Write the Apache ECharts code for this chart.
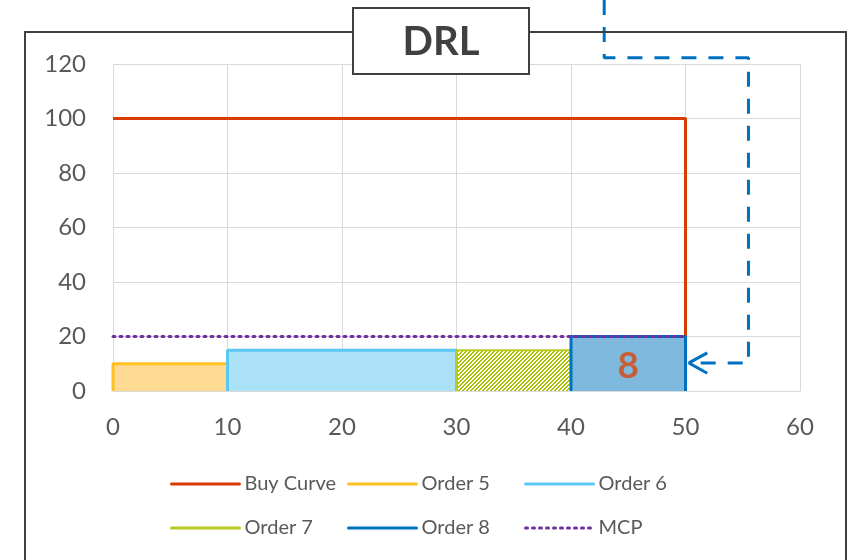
<!DOCTYPE html>
<html><head><meta charset="utf-8">
<script src="https://cdn.jsdelivr.net/npm/echarts@6/dist/echarts.min.js"></script>
<style>html,body{margin:0;padding:0;background:#fff}#c{width:851px;height:560px}</style>
</head><body><div id="c"></div>
<script>
// ---- data ----
var xTicks = [0, 10, 20, 30, 40, 50, 60];
var yTicks = [0, 20, 40, 60, 80, 100, 120];
var buyCurve = [[0, 100], [50, 100], [50, 0]];
var order5 = [[0, 0], [0, 10], [10, 10], [10, 0]];
var order6 = [[10, 0], [10, 15], [30, 15], [30, 0]];
var order7 = [[30, 0], [30, 15], [40, 15], [40, 0]];
var order8 = [[40, 0], [40, 20], [50, 20], [50, 0]];
var mcp = [[0, 20], [50, 20]];
var orderLabel = [[45, 9, '8']];
var arrowPath = [[42.9, 143.5], [42.9, 122.3], [55.5, 122.3], [55.5, 10.3], [50.4, 10.3]];
var arrowHead = [[51.9, 14.0], [50.3, 10.3], [51.9, 6.5]];
var legendNames = ['Buy Curve', 'Order 5', 'Order 6', 'Order 7', 'Order 8', 'MCP'];
var legendColors = ['#d83b01', '#ffc020', '#5ac8f5', '#b8c91f', '#0070c0', '#7030a0'];

var FONT = 'Lato';
var hatch = document.createElement('canvas');
hatch.width = 4; hatch.height = 4;
var g = hatch.getContext('2d');
g.fillStyle = '#ffffff'; g.fillRect(0, 0, 4, 4);
g.fillStyle = '#a8c000';
for (var px = 0; px < 4; px++) for (var py = 0; py < 4; py++) {
  if ((px + py) % 4 < 2) g.fillRect(px, py, 1, 1);
}

var chart = echarts.init(document.getElementById('c'));
var legends = legendNames.map(function (name, i) {
  var col = i % 3, row = Math.floor(i / 3);
  return {
    left: 170 + col * 177, top: row === 0 ? 474 : 518, padding: 0,
    itemWidth: 68, itemHeight: 14,
    textStyle: { fontFamily: FONT, fontSize: 20, color: '#595959' },
    data: [{ name: name, itemStyle: { opacity: 0 },
      lineStyle: { color: legendColors[i], width: 3, type: name === 'MCP' ? [2, 5] : 'solid', cap: 'round' } }]
  };
});
chart.setOption({
  animation: false,
  grid: { left: 113, right: 51, top: 64, bottom: 169 },
  legend: legends,
  xAxis: {
    type: 'value', min: xTicks[0], max: xTicks[xTicks.length - 1], interval: 10,
    axisLine: { show: true, lineStyle: { color: '#d9d9d9', width: 1 } },
    axisTick: { show: false },
    axisLabel: { fontFamily: FONT, fontSize: 24, color: '#595959', margin: 24 },
    splitLine: { show: true, lineStyle: { color: '#d9d9d9', width: 1 } }
  },
  yAxis: {
    type: 'value', min: yTicks[0], max: yTicks[yTicks.length - 1], interval: 20,
    axisLine: { show: false }, axisTick: { show: false },
    axisLabel: { fontFamily: FONT, fontSize: 24, color: '#595959', margin: 27 },
    splitLine: { show: true, lineStyle: { color: '#d9d9d9', width: 1 } }
  },
  series: [
    { name: 'Buy Curve', type: 'line', data: buyCurve, symbol: 'none', z: 2,
      lineStyle: { color: '#d83b01', width: 3 }, itemStyle: { color: '#d83b01' } },
    { name: 'Order 5', type: 'line', data: order5, symbol: 'none', z: 3,
      lineStyle: { color: '#ffc020', width: 3 }, itemStyle: { color: '#ffc020' },
      areaStyle: { color: 'rgba(255,205,110,0.75)', opacity: 1 } },
    { name: 'Order 6', type: 'line', data: order6, symbol: 'none', z: 3,
      lineStyle: { color: '#5ac8f5', width: 3 }, itemStyle: { color: '#5ac8f5' },
      areaStyle: { color: '#ace2f7', opacity: 1 } },
    { name: 'Order 7', type: 'line', data: order7, symbol: 'none', z: 3,
      lineStyle: { color: '#b8c91f', width: 2 }, itemStyle: { color: '#b8c91f' },
      areaStyle: { color: { image: hatch, repeat: 'repeat' }, opacity: 1 } },
    { name: 'Order 8', type: 'line', data: order8, symbol: 'none', z: 4,
      lineStyle: { color: '#0070c0', width: 3 }, itemStyle: { color: '#0070c0' },
      areaStyle: { color: '#7fb9dd', opacity: 1 } },
    { name: 'MCP', type: 'line', data: mcp, symbol: 'none', z: 5,
      lineStyle: { color: '#7030a0', width: 3, type: [2, 5], cap: 'round' },
      itemStyle: { color: '#7030a0' } },
    { name: 'label8', type: 'scatter', data: orderLabel, symbolSize: 0, z: 6,
      label: { show: true, position: 'inside', formatter: function (p) { return p.data[2]; },
        fontFamily: FONT, fontWeight: 'bold', fontSize: 37, color: '#d9470d' } },
    { name: 'arrow', type: 'line', data: arrowPath, symbol: 'none', clip: false, z: 6,
      lineStyle: { color: '#0070c0', width: 3, type: [15, 12] } },
    { name: 'arrowHead', type: 'line', data: arrowHead, symbol: 'none', clip: false, z: 6,
      lineStyle: { color: '#0070c0', width: 3 } }
  ],
  graphic: [
    { type: 'rect', z: 10, silent: true,
      shape: { x: 25, y: 32, width: 821, height: 560 },
      style: { fill: 'none', stroke: '#404040', lineWidth: 2 } },
    { type: 'rect', z: 11, silent: true,
      shape: { x: 353, y: 8, width: 176, height: 66 },
      style: { fill: '#ffffff', stroke: '#404040', lineWidth: 2 } },
    { type: 'text', z: 12, silent: true, x: 441, y: 42,
      style: { text: 'DRL', fill: '#404040', font: 'bold 40px ' + FONT,
        textAlign: 'center', textVerticalAlign: 'middle' } }
  ]
});
</script></body></html>
